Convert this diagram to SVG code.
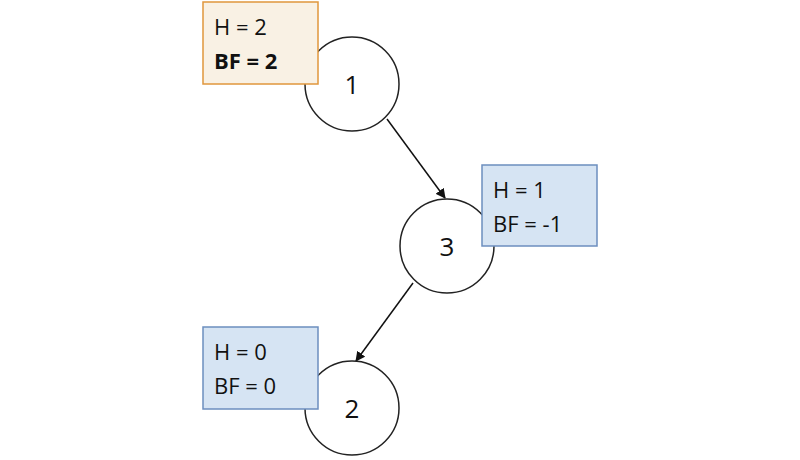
<svg xmlns="http://www.w3.org/2000/svg" width="800" height="460" viewBox="0 0 800 460">
<style>
.n{fill:#fff;stroke:#222;stroke-width:1.5}
.t{font-family:"Open Sans",sans-serif;font-size:22px;fill:#111}
.num{font-family:"Open Sans",sans-serif;font-size:26px;fill:#111;text-anchor:middle}
.o{fill:#f9f1e4;stroke:#e0963c;stroke-width:1.5}
.b{fill:#d6e4f3;stroke:#6c8ebf;stroke-width:1.5}
.e{stroke:#111;stroke-width:1.5;fill:none;marker-end:url(#a)}
</style>
<defs><marker id="a" viewBox="0 0 10 10" refX="9" refY="5" markerWidth="10" markerHeight="10" markerUnits="userSpaceOnUse" orient="auto"><path d="M0,0L10,5L0,10z" fill="#111"/></marker></defs>
<g id="connectors">
<line class="e" x1="387" y1="119" x2="445" y2="198"/>
<line class="e" x1="413" y1="283" x2="356" y2="361"/>
</g>
<g id="node1"><circle class="n" cx="352" cy="84" r="47"/><text class="num" x="352" y="94">1</text>
<rect class="o" x="203" y="2" width="115" height="82"/><text class="t" x="214" y="35">H = 2</text><text class="t" x="214" y="69" font-weight="bold">BF = 2</text></g>
<g id="node3"><circle class="n" cx="447" cy="246" r="47"/><text class="num" x="447" y="256">3</text>
<rect class="b" x="482" y="165" width="115" height="81"/><text class="t" x="493" y="198">H = 1</text><text class="t" x="493" y="232">BF = -1</text></g>
<g id="node2"><circle class="n" cx="352" cy="408" r="47"/><text class="num" x="352" y="418">2</text>
<rect class="b" x="203" y="327" width="115" height="82"/><text class="t" x="214" y="360">H = 0</text><text class="t" x="214" y="394">BF = 0</text></g>
</svg>
